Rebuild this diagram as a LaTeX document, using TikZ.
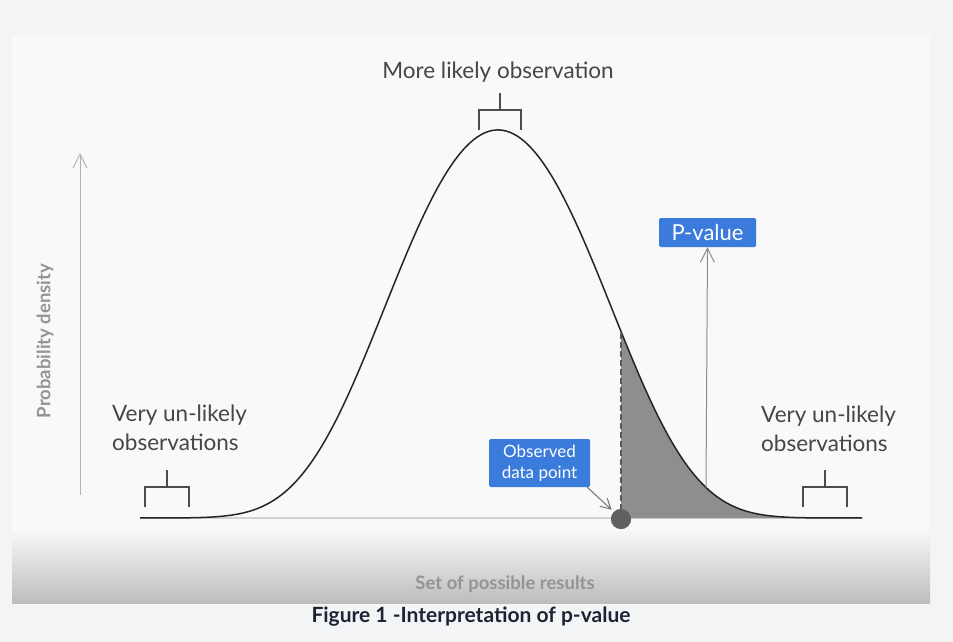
\documentclass[tikz,border=0pt]{standalone}
\usepackage{fontspec}
\setmainfont{Lato}
\usepackage{xcolor}
\usetikzlibrary{arrows.meta}
\definecolor{pageBg}{HTML}{F3F4F6}
\definecolor{panelBg}{HTML}{F9F9F9}
\definecolor{floorGray}{HTML}{BDBDBD}
\definecolor{boxBlue}{HTML}{3A7BDC}
\definecolor{labelGray}{HTML}{464646}
\definecolor{tailGray}{HTML}{8E8E8E}
\definecolor{dotGray}{HTML}{606060}
\definecolor{captionInk}{HTML}{1C2434}
\tikzset{
    labelText/.style={text=labelGray,font=\fontsize{22.5}{29}\selectfont,inner sep=0},
    axisText/.style={text=black!42,font=\bfseries\fontsize{18.5}{22}\selectfont,inner sep=0},
    blueBox/.style={fill=boxBlue,text=white,rounded corners=1.5,inner sep=0},
    bracketLine/.style={draw=black!70,line width=1.2},
    axisArrow/.style={draw=black!30,line width=1,-{Straight Barb[length=14,width=14]}},
    pointer/.style={draw=black!55,line width=1,-{Straight Barb[length=10,width=11]}},
}
\newcommand{\bracket}[3] {
    \draw[bracketLine] ({#1-#3},{#2+20}) -- ({#1-#3},{#2})
        -- ({#1+#3},{#2}) -- ({#1+#3},{#2+20});
    \draw[bracketLine] ({#1},{#2}) -- ({#1},{#2-17});
}

\begin{document}
\begin{tikzpicture}[x=1pt,y=-1pt,
    declare function={dens(\t)=518-388*exp(-0.5*((\t-498)/108)*((\t-498)/108)
        -0.05*((\t-498)/108)*((\t-498)/108)*((\t-498)/108)*((\t-498)/108));}]
    % page and panel
    \fill[pageBg] (0,0) rectangle (953,642);
    \fill[panelBg] (12,36) rectangle (930,603);
    \shade[top color=panelBg,bottom color=floorGray] (12,528) rectangle (930,603);

    % axes
    \coordinate (yFoot) at (80,495);
    \coordinate (yHead) at (80,153);
    \draw[axisArrow] (yFoot) -- (yHead);
    \coordinate (xStart) at (140,518);
    \coordinate (xEnd) at (862,518);
    \draw[black!18,line width=2] (xStart) -- (xEnd);

    % tail area and curve
    \node[circle,fill=dotGray,minimum size=20,inner sep=0] (dot) at (621,519) {};
    \coordinate (dashTop) at (621,{dens(621)});
    \fill[tailGray] (621,518) -- plot[domain=621:862,samples=80] (\x,{dens(\x)}) -- (xEnd) -- cycle;
    \draw[black!85,line width=1.5] plot[domain=140:862,samples=200] (\x,{dens(\x)});
    \draw[black!65,line width=2.6,dash pattern=on 6 off 3] (dot.center) -- (dashTop);
    \node[circle,fill=dotGray,minimum size=20,inner sep=0] at (dot) {};

    % brackets
    \bracket{167}{487}{22}
    \bracket{825}{487}{22}
    \bracket{500}{110}{21}

    % labels
    \node[labelText] (likely) at (498,72) {More likely observation};
    \node[labelText,align=left,anchor=west] (leftTail) at (112,427.5) {Very un-likely\\observations};
    \node[labelText,align=left,anchor=west] (rightTail) at (761,428.5) {Very un-likely\\observations};
    \node[axisText,rotate=90] (yLabel) at (45,341) {Probability density};
    \node[axisText] (xLabel) at (505,584) {Set of possible results};

    % p-value and observed point
    \node[blueBox,minimum width=97,minimum height=29,font=\fontsize{22}{24}\selectfont] (pval) at (707.5,232.5) {P-value};
    \coordinate (pFoot) at (706,{dens(706)});
    \draw[axisArrow,draw=black!45] (pFoot) -- (pval.south);
    \node[blueBox,minimum width=101,minimum height=48,align=center,font=\fontsize{17}{21}\selectfont] (obs) at (539.5,463) {Observed\\data point};
    \draw[pointer,shorten >=3] ([xshift=-3]obs.south east) -- (dot.north west);

    % caption
    \node[text=captionInk,font=\bfseries\fontsize{21}{24}\selectfont,inner sep=0] (caption) at (471,617) {Figure 1 -Interpretation of p-value};
\end{tikzpicture}
\end{document}
